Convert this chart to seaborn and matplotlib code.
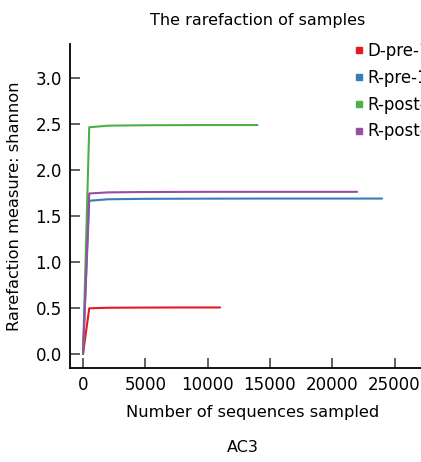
import pandas as pd
import matplotlib
matplotlib.use("Agg")
import matplotlib.pyplot as plt
import seaborn as sns
from matplotlib.lines import Line2D

# rarefaction curves (sequences sampled -> shannon)
samples = ["D-pre-1", "R-pre-1", "R-post-1", "R-post-2"]
colors = ["#E41A1C", "#377EB8", "#4DAF4A", "#984EA3"]

d_pre_x = [0, 500, 2000, 5000, 8000, 11000]
d_pre_y = [0.0, 0.497, 0.503, 0.505, 0.506, 0.506]

r_pre_x = [0, 500, 2000, 5000, 10000, 15000, 20000, 24000]
r_pre_y = [0.0, 1.666, 1.682, 1.687, 1.689, 1.690, 1.690, 1.690]

r_post1_x = [0, 500, 2000, 5000, 10000, 14000]
r_post1_y = [0.0, 2.465, 2.482, 2.487, 2.489, 2.489]

r_post2_x = [0, 500, 2000, 5000, 10000, 15000, 22000]
r_post2_y = [0.0, 1.745, 1.757, 1.761, 1.763, 1.763, 1.763]

frames = []
for name, xs, ys in zip(samples,
                        [d_pre_x, r_pre_x, r_post1_x, r_post2_x],
                        [d_pre_y, r_pre_y, r_post1_y, r_post2_y]):
    frames.append(pd.DataFrame({"seqs": xs, "shannon": ys, "sample": name}))
df = pd.concat(frames, ignore_index=True)

sns.set_style("white")
plt.rcParams["font.family"] = ["DejaVu Sans"]
plt.rcParams["text.color"] = "black"
plt.rcParams["axes.labelcolor"] = "black"
plt.rcParams["xtick.color"] = "black"
plt.rcParams["ytick.color"] = "black"

fig = plt.figure(figsize=(4.21, 4.62), dpi=100)
ax = fig.add_axes([70 / 421, 94 / 462, 376 / 421, 324 / 462])

sns.lineplot(data=df, x="seqs", y="shannon", hue="sample", hue_order=samples,
             palette=colors, linewidth=1.5, ax=ax, legend=False, estimator=None,
             sort=False)

ax.set_xlim(-1043, 29130)
ax.set_ylim(-0.152, 3.37)
ax.set_xticks([0, 5000, 10000, 15000, 20000, 25000])
ax.set_yticks([0.0, 0.5, 1.0, 1.5, 2.0, 2.5, 3.0])
ax.set_yticklabels(["0.0", "0.5", "1.0", "1.5", "2.0", "2.5", "3.0"])
ax.tick_params(direction="in", length=7, width=1.3, bottom=True, left=True,
               labelsize=12, pad=6)
ax.tick_params(colors="#555555", labelcolor="black")
for s in ["top", "right"]:
    ax.spines[s].set_visible(False)
for s in ["left", "bottom"]:
    ax.spines[s].set_color("black")
    ax.spines[s].set_linewidth(1.3)

ax.set_xlabel("Number of sequences sampled", fontsize=11.7)
ax.xaxis.set_label_coords(183 / 376, -37 / 324)
ax.set_ylabel("Rarefaction measure: shannon", fontsize=11.7)
ax.yaxis.set_label_coords(-48 / 376, 0.5)

fig.text(258 / 421, 1 - 20 / 462, "The rarefaction of samples",
         ha="center", va="center", fontsize=11.5)
fig.text(243 / 421, 1 - 448 / 462, "AC3", ha="center", va="center", fontsize=11.5)

handles = [Line2D([], [], marker="s", linestyle="none", color=c, markersize=5)
           for c in colors]
fig.legend(handles, samples, loc="upper left", bbox_to_anchor=(354 / 421, 1 - 42 / 462),
           frameon=False, fontsize=12, handlelength=0.6, handletextpad=0.2,
           labelspacing=0.53, borderaxespad=0, borderpad=0)

fig.savefig("out.png", dpi=100)
